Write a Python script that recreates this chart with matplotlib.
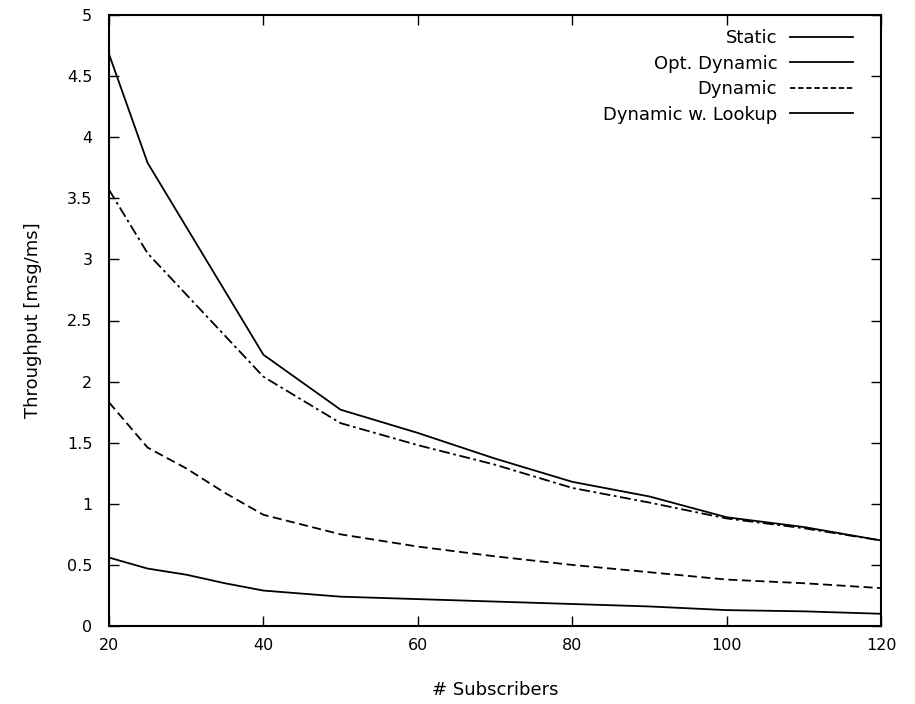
import matplotlib
matplotlib.use("Agg")
import matplotlib.pyplot as plt
from matplotlib.lines import Line2D

# ---- data ----
subscribers = [20, 25, 40, 50, 60, 70, 80, 90, 100, 110, 120]
static = [4.68, 3.79, 2.22, 1.77, 1.58, 1.37, 1.18, 1.06, 0.89, 0.81, 0.70]
opt_dynamic = [3.57, 3.05, 2.04, 1.66, 1.48, 1.32, 1.13, 1.01, 0.88, 0.80, 0.70]

subscribers_dyn = [20, 25, 30, 35, 40, 50, 60, 70, 80, 90, 100, 110, 120]
dynamic = [1.83, 1.46, 1.29, 1.09, 0.91, 0.75, 0.65, 0.57, 0.50, 0.44, 0.38, 0.35, 0.31]
dynamic_lookup = [0.56, 0.47, 0.42, 0.35, 0.29, 0.24, 0.22, 0.20, 0.18, 0.16, 0.13, 0.12, 0.10]

labels = ["Static", "Opt. Dynamic", "Dynamic", "Dynamic w. Lookup"]
xticks = [20, 40, 60, 80, 100, 120]
yticks = [0, 0.5, 1, 1.5, 2, 2.5, 3, 3.5, 4, 4.5, 5]
ytick_labels = ["0", "0.5", "1", "1.5", "2", "2.5", "3", "3.5", "4", "4.5", "5"]
xlabel = "# Subscribers"
ylabel = "Throughput [msg/ms]"

plt.rcParams['font.family'] = ['DejaVu Sans']
fig = plt.figure(figsize=(9.15, 7.04), dpi=100)
ax = fig.add_axes([109/915, 1-626/704, (881-109)/915, (626-15)/704])

lw = 1.3
ax.plot(subscribers, static, color='black', lw=lw, ls='-')
ax.plot(subscribers, opt_dynamic, color='black', lw=lw, ls=(0, (6, 2, 1.5, 2)))
ax.plot(subscribers_dyn, dynamic, color='black', lw=lw, ls=(0, (5, 2.5)))
ax.plot(subscribers_dyn, dynamic_lookup, color='black', lw=lw, ls='-')

ax.set_xlim(20, 120)
ax.set_ylim(0, 5)
ax.set_xticks(xticks)
ax.set_yticks(yticks)
ax.set_yticklabels(ytick_labels)
ax.tick_params(direction='in', length=7, width=1.0, top=True, right=True,
               labelsize=11.5, colors='black')
ax.tick_params(axis='x', pad=9)
ax.tick_params(axis='y', pad=12)
for s in ax.spines.values():
    s.set_linewidth(1.5)

ax.set_xlabel(xlabel, fontsize=13, labelpad=20)
ax.set_ylabel(ylabel, fontsize=13, labelpad=18)

handles = [Line2D([], [], color='black', lw=lw, ls='-'),
           Line2D([], [], color='black', lw=lw, ls='-'),
           Line2D([], [], color='black', lw=lw, ls=(0, (3, 1.5))),
           Line2D([], [], color='black', lw=lw, ls='-')]
ax.legend(handles, labels, loc='upper right', bbox_to_anchor=(0.9637, 0.977),
          frameon=False, markerfirst=False, fontsize=13, handlelength=3.5,
          handletextpad=0.7, labelspacing=0.42, borderpad=0, borderaxespad=0)

fig.savefig("out.png", dpi=100)
